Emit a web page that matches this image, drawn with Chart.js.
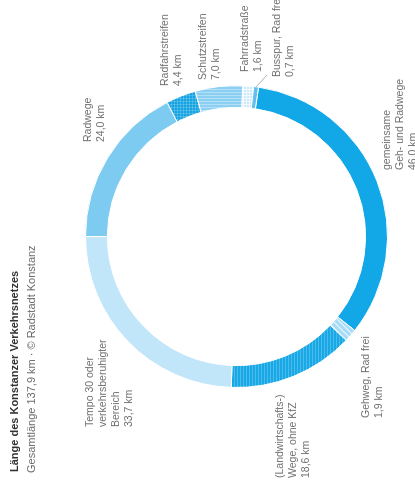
<!DOCTYPE html>
<html>
<head>
<meta charset="utf-8">
<script src="https://cdn.jsdelivr.net/npm/chart.js@4"></script>
<style>
  html, body { margin: 0; padding: 0; background: #fff; overflow: hidden; }
  body { width: 415px; height: 486px; position: relative; }
  #wrap {
    position: absolute; left: 0; top: 486px; width: 486px; height: 415px;
    transform-origin: 0 0; transform: rotate(-90deg);
    font-family: "Liberation Sans", Arial, sans-serif;
  }
  #title { position: absolute; left: 14px; top: 8px; font-size: 11px; font-weight: bold; color: #333; line-height: 13px; white-space: nowrap; }
  #sub { position: absolute; left: 13px; top: 25px; font-size: 11px; color: #6a6a6a; line-height: 13px; white-space: nowrap; }
  canvas { position: absolute; left: 0; top: 0; }
</style>
</head>
<body>
<div id="wrap">
  <canvas id="c" width="486" height="415"></canvas>
  <div id="title">Länge des Konstanzer Verkehrsnetzes</div>
  <div id="sub">Gesamtlänge 137,9 km · © Radstadt Konstanz</div>
</div>
<script>
// ---- data ----
const categories = [
  'gemeinsame Geh- und Radwege',
  'Gehweg, Rad frei',
  '(Landwirtschafts-) Wege, ohne KfZ',
  'Tempo 30 oder verkehrsberuhigter Bereich',
  'Radwege',
  'Radfahrstreifen',
  'Schutzstreifen',
  'Fahrradstraße',
  'Busspur, Rad frei'
];
const values = [46.0, 1.9, 18.6, 33.7, 24.0, 4.4, 7.0, 1.6, 0.7];
const labelLines = [
  ['gemeinsame', 'Geh- und Radwege'],
  ['Gehweg, Rad frei'],
  ['(Landwirtschafts-)', 'Wege, ohne KfZ'],
  ['Tempo 30 oder', 'verkehrsberuhigter', 'Bereich'],
  ['Radwege'],
  ['Radfahrstreifen'],
  ['Schutzstreifen'],
  ['Fahrradstraße'],
  ['Busspur, Rad frei']
];

// ---- label placement (text anchors, original frame) ----
const labelPos = [
  [316, 382], [68, 361], [8, 275], [59, 85], [344, 83],
  [400, 160], [406, 198], [414, 240], [409, 272]
];

function fmt(v) { return v.toFixed(1).replace('.', ',') + ' km'; }

function makePattern(base, draw) {
  const p = document.createElement('canvas');
  p.width = 6; p.height = 6;
  const g = p.getContext('2d');
  g.fillStyle = base; g.fillRect(0, 0, 6, 6);
  draw(g);
  return document.getElementById('c').getContext('2d').createPattern(p, 'repeat');
}

const colGemeinsam = '#12a7e6';
const patGehweg = makePattern('#a8dbf6', g => {
  g.strokeStyle = 'rgba(255,255,255,0.75)'; g.lineWidth = 1.2;
  g.beginPath(); g.moveTo(-1, 7); g.lineTo(7, -1); g.moveTo(-1, 1); g.lineTo(1, -1); g.moveTo(5, 7); g.lineTo(7, 5); g.stroke();
});
const patWege = makePattern('#19a8e6', g => {
  g.fillStyle = 'rgba(255,255,255,0.22)';
  g.fillRect(0, 0, 6, 1); g.fillRect(0, 3, 6, 1);
});
const colTempo = '#c1e5f9';
const colRadweg = '#7dcbf1';
const patRadfahr = makePattern('#16a3e2', g => {
  g.fillStyle = 'rgba(255,255,255,0.18)';
  g.fillRect(0, 0, 6, 1); g.fillRect(0, 3, 6, 1); g.fillRect(0, 0, 1, 6); g.fillRect(3, 0, 1, 6);
});
const patSchutz = makePattern('#8bd0f3', g => {
  g.fillStyle = 'rgba(255,255,255,0.35)';
  g.fillRect(0, 0, 1, 6); g.fillRect(3, 0, 1, 6);
});
const patFahrrad = makePattern('#cdeafa', g => {
  g.fillStyle = 'rgba(255,255,255,0.7)';
  g.fillRect(0, 0, 6, 1); g.fillRect(0, 3, 6, 1); g.fillRect(0, 0, 1, 6); g.fillRect(3, 0, 1, 6);
});
const colBus = '#62bfee';

const fills = [colGemeinsam, patGehweg, patWege, colTempo, colRadweg, patRadfahr, patSchutz, patFahrrad, colBus];

const labelPlugin = {
  id: 'labels',
  afterDatasetsDraw(chart) {
    const ctx = chart.ctx;
    const meta = chart.getDatasetMeta(0);
    ctx.save();
    ctx.font = '10.5px "Liberation Sans", Arial, sans-serif';
    ctx.fillStyle = '#707070';
    ctx.textAlign = 'left';
    ctx.textBaseline = 'alphabetic';
    const lh = 13.3;
    categories.forEach((c, i) => {
      const [x0, y0] = labelPos[i];
      const lines = labelLines[i].concat([fmt(values[i])]);
      lines.forEach((t, k) => ctx.fillText(t, x0, y0 + 7.5 + k * lh));
    });
    // leader line for the smallest slice
    const i = values.length - 1;
    const arc = meta.data[i];
    const a = (arc.startAngle + arc.endAngle) / 2;
    const r = arc.outerRadius;
    ctx.strokeStyle = '#9a9a9a';
    ctx.lineWidth = 0.8;
    ctx.beginPath();
    ctx.moveTo(arc.x + r * Math.cos(a), arc.y + r * Math.sin(a));
    ctx.lineTo(labelPos[i][0] + 2, labelPos[i][1] - 5);
    ctx.stroke();
    ctx.restore();
  }
};

new Chart(document.getElementById('c'), {
  type: 'doughnut',
  data: {
    labels: categories,
    datasets: [{
      data: values,
      backgroundColor: fills,
      borderColor: '#ffffff',
      borderWidth: 1
    }]
  },
  options: {
    responsive: false,
    maintainAspectRatio: false,
    devicePixelRatio: 1,
    animation: false,
    rotation: 98.4,
    cutout: '85.5%',
    layout: { padding: { left: 98, right: 85, top: 85, bottom: 27 } },
    plugins: { legend: { display: false }, tooltip: { enabled: false } }
  },
  plugins: [labelPlugin]
});
</script>
</body>
</html>
